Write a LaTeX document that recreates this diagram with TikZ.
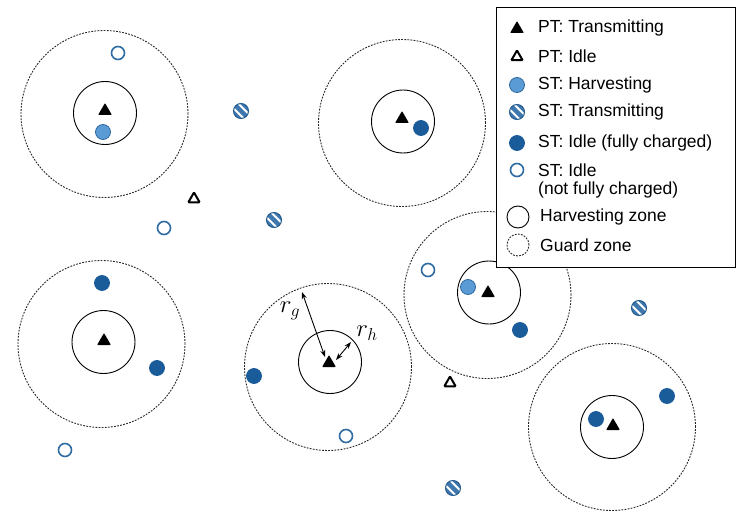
\documentclass[tikz,border=0pt]{standalone}
\usepackage{fontspec}
\newfontfamily\legfont{Liberation Sans}
\usetikzlibrary{shapes.geometric,arrows.meta}
\definecolor{hlight}{HTML}{5B9BD5}
\definecolor{hbord}{HTML}{2E6A9E}
\definecolor{fdark}{HTML}{1A5B9A}
\definecolor{obord}{HTML}{2F6CA3}
\definecolor{tmid}{HTML}{3F78AE}
\definecolor{tbord}{HTML}{245C90}
\tikzset{
  ptx/.style={regular polygon, regular polygon sides=3, minimum size=16pt, inner sep=0pt, fill=black, rounded corners=0.8pt},
  pti/.style={regular polygon, regular polygon sides=3, minimum size=13pt, inner sep=0pt, draw=black, line width=2pt, fill=white, rounded corners=0.8pt},
  sth/.style={circle, minimum size=15pt, inner sep=0pt, fill=hlight, draw=hbord, line width=0.8pt},
  stf/.style={circle, minimum size=15pt, inner sep=0pt, fill=fdark, draw=fdark, line width=0.8pt},
  sto/.style={circle, minimum size=13pt, inner sep=0pt, fill=white, draw=obord, line width=1.6pt},
  stt/.style={circle, minimum size=15pt, inner sep=0pt, fill=tmid, draw=tbord, line width=1pt,
    path picture={
      \foreach \d in {-2.4,2.4}
        \draw[white, line width=2pt] ([shift={(\d pt,\d pt)}]path picture bounding box.center) ++(-10pt,10pt) -- ++(20pt,-20pt);
    }},
  hz/.style={circle, minimum size=63pt, inner sep=0pt, draw=black, line width=0.9pt},
  gz/.style={circle, minimum size=167pt, inner sep=0pt, draw=black!85, line width=0.9pt, dash pattern=on 1.8pt off 1.3pt},
  lhz/.style={circle, minimum size=22pt, inner sep=0pt, draw=black, line width=0.9pt},
  lgz/.style={circle, minimum size=22pt, inner sep=0pt, draw=black!85, line width=0.9pt, dash pattern=on 1.8pt off 1.3pt},
  legtext/.style={anchor=west, inner sep=0pt, font=\legfont\fontsize{17.5}{20}\selectfont},
  rad/.style={<->, >={Stealth[length=7pt,width=5pt]}, line width=0.9pt},
  radlab/.style={inner sep=0pt, font=\fontsize{24}{28}\selectfont}
}
\begin{document}
\begin{tikzpicture}[x=1pt,y=-1pt]
\useasboundingbox (0,0) rectangle (740,511);
% zones
\node[gz] (g1) at (104.5,114) {};
\node[hz] (h1) at (105,113) {};
\node[gz] (g2) at (402,123) {};
\node[hz] (h2) at (403,121.5) {};
\node[gz] (g3) at (101.5,344) {};
\node[hz] (h3) at (103.5,342) {};
\node[gz] (g4) at (328,367) {};
\node[hz] (h4) at (330,362) {};
\node[gz] (g5) at (487.5,295) {};
\node[hz] (h5) at (489,292.5) {};
\node[gz] (g6) at (612,427) {};
\node[hz] (h6) at (612,427) {};
% PTs
\node[ptx] (p1) at (105,111) {};
\node[ptx] (p2) at (402,119) {};
\node[ptx] (p3) at (104,341) {};
\node[ptx] (p4) at (329,363) {};
\node[ptx] (p5) at (488,293) {};
\node[ptx] (p6) at (613,426) {};
\node[pti] (pi1) at (194,199) {};
\node[pti] (pi2) at (450,383) {};
% STs
\node[sth] (s1) at (103,132) {};
\node[sth] (s2) at (468,287) {};
\node[stf] (s3) at (421,128) {};
\node[stf] (s4) at (102,283) {};
\node[stf] (s5) at (157,368) {};
\node[stf] (s6) at (254,376) {};
\node[stf] (s7) at (520,330) {};
\node[stf] (s8) at (596,419) {};
\node[stf] (s9) at (667,396) {};
\node[sto] (o1) at (118,53) {};
\node[sto] (o2) at (164,228) {};
\node[sto] (o3) at (65,450) {};
\node[sto] (o4) at (346,436) {};
\node[sto] (o5) at (428,270) {};
\node[stt] (t1) at (241,111) {};
\node[stt] (t2) at (274,220) {};
\node[stt] (t3) at (639,308) {};
\node[stt] (t4) at (453,488) {};
% radii
\coordinate (rgo) at (302,292);
\coordinate (rgi) at (325,357);
\coordinate (rhi) at (336,360);
\coordinate (rho) at (351,342);
\draw[rad] (rgi) -- (rgo);
\draw[rad] (rhi) -- (rho);
\node[radlab] (lrg) at (290,311) {$r_g$};
\node[radlab] (lrh) at (367,333) {$r_h$};
% legend
\node[draw=black, line width=1pt, fill=white, minimum width=239pt, minimum height=260pt, inner sep=0pt, anchor=north west] (leg) at (496,7) {};
\node[ptx] (lp1) at (517,29) {};
\node[pti] (lp2) at (517,57) {};
\node[sth] (ls1) at (517,85) {};
\node[stt] (ls2) at (517,112) {};
\node[stf] (ls3) at (517,143) {};
\node[sto] (ls4) at (517,170) {};
\node[lhz] (lz1) at (518,217) {};
\node[lgz] (lz2) at (518,245) {};
\node[legtext] (tx1) at (538,28) {PT: Transmitting};
\node[legtext] (tx2) at (538,56) {PT: Idle};
\node[legtext] (tx3) at (538,85) {ST: Harvesting};
\node[legtext] (tx4) at (538,112) {ST: Transmitting};
\node[legtext] (tx5) at (538,143) {ST: Idle (fully charged)};
\node[legtext] (tx6) at (538,170) {ST: Idle};
\node[legtext] (tx7) at (538,190) {(not fully charged)};
\node[legtext] (tx8) at (540,217) {Harvesting zone};
\node[legtext] (tx9) at (540,245) {Guard zone};
\end{tikzpicture}
\end{document}
